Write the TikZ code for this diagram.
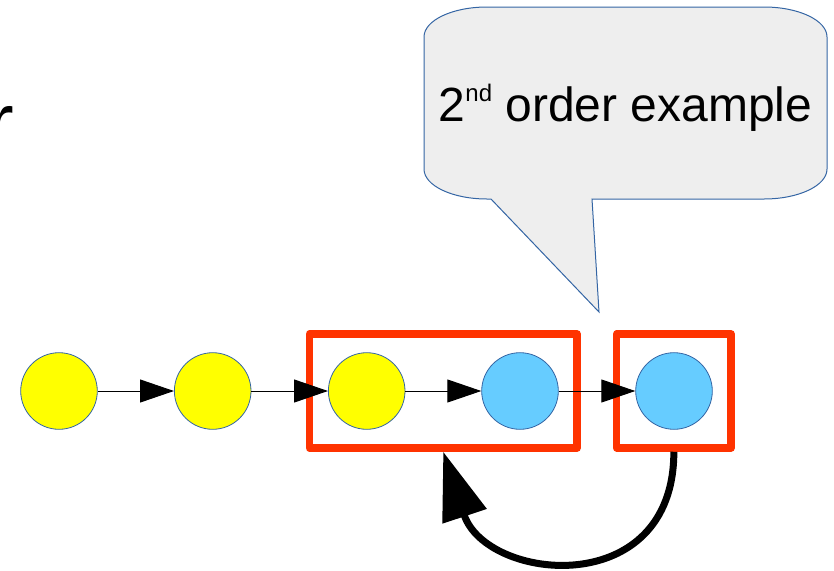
\documentclass[tikz,border=0pt]{standalone}
\usepackage{fontspec}
\setmainfont{Liberation Sans}
\usetikzlibrary{arrows.meta}
\definecolor{bubblefill}{HTML}{EEEEEE}
\definecolor{edgeblue}{HTML}{3465A4}
\definecolor{nodeyellow}{HTML}{FFFF00}
\definecolor{nodeblue}{HTML}{66CCFF}
\definecolor{boxred}{HTML}{FF3300}
\tikzset{
  state/.style={circle, draw=edgeblue, line width=0.8pt, minimum size=76.6pt, inner sep=0pt},
  ystate/.style={state, fill=nodeyellow},
  bstate/.style={state, fill=nodeblue},
  redbox/.style={draw=boxred, line width=7.5pt, line join=round, inner sep=0pt, minimum height=114pt},
  flow/.style={draw=black, line width=1pt, -{Triangle[length=34pt,width=23pt]}},
  loopback/.style={draw=black, line width=7pt, -{Triangle[length=68pt,width=45pt]}},
  bubble/.style={draw=edgeblue, line width=1pt, fill=bubblefill, line join=miter},
}
\begin{document}
\begin{tikzpicture}[x=1pt,y=-1pt]
\useasboundingbox (0,0) rectangle (834,570);
% partial title letter cut off at left
\node[anchor=base east, inner sep=0pt, font=\fontsize{80}{80}\selectfont] (title) at (14,149) {r};
% speech bubble
\path[bubble] (424,37) .. controls (424,20.4) and (452.2,7) .. (487,7)
  -- (764,7) .. controls (798.8,7) and (827,20.4) .. (827,37)
  -- (827,169) .. controls (827,185.6) and (798.8,199) .. (764,199)
  -- (592,199) -- (599,312) -- (491,199) -- (487,199)
  .. controls (452.2,199) and (424,185.6) .. (424,169) -- cycle;
\node[anchor=base, inner sep=0pt, font=\fontsize{48}{48}\selectfont] (label) at (625.5,121)
  {2\raisebox{20pt}{\fontsize{24}{24}\selectfont nd} order example};
% red grouping boxes
\node[redbox, minimum width=267.5pt] (r1) at (443.25,391) {};
\node[redbox, minimum width=114.3pt] (r2) at (673.85,391) {};
% states
\node[ystate] (c1) at (59,391) {};
\node[ystate] (c2) at (212.7,391) {};
\node[ystate] (c3) at (366.7,391) {};
\node[bstate] (c4) at (520,391) {};
\node[bstate] (c5) at (674,391) {};
% transitions
\draw[flow] (c1) -- (c2);
\draw[flow] (c2) -- (c3);
\draw[flow] (c3) -- (c4);
\draw[flow] (c4) -- (c5);
% feedback arrow
\draw[loopback] (r2.south) .. controls +(0,150) and +(43,130) .. (r1.south);
\end{tikzpicture}
\end{document}
